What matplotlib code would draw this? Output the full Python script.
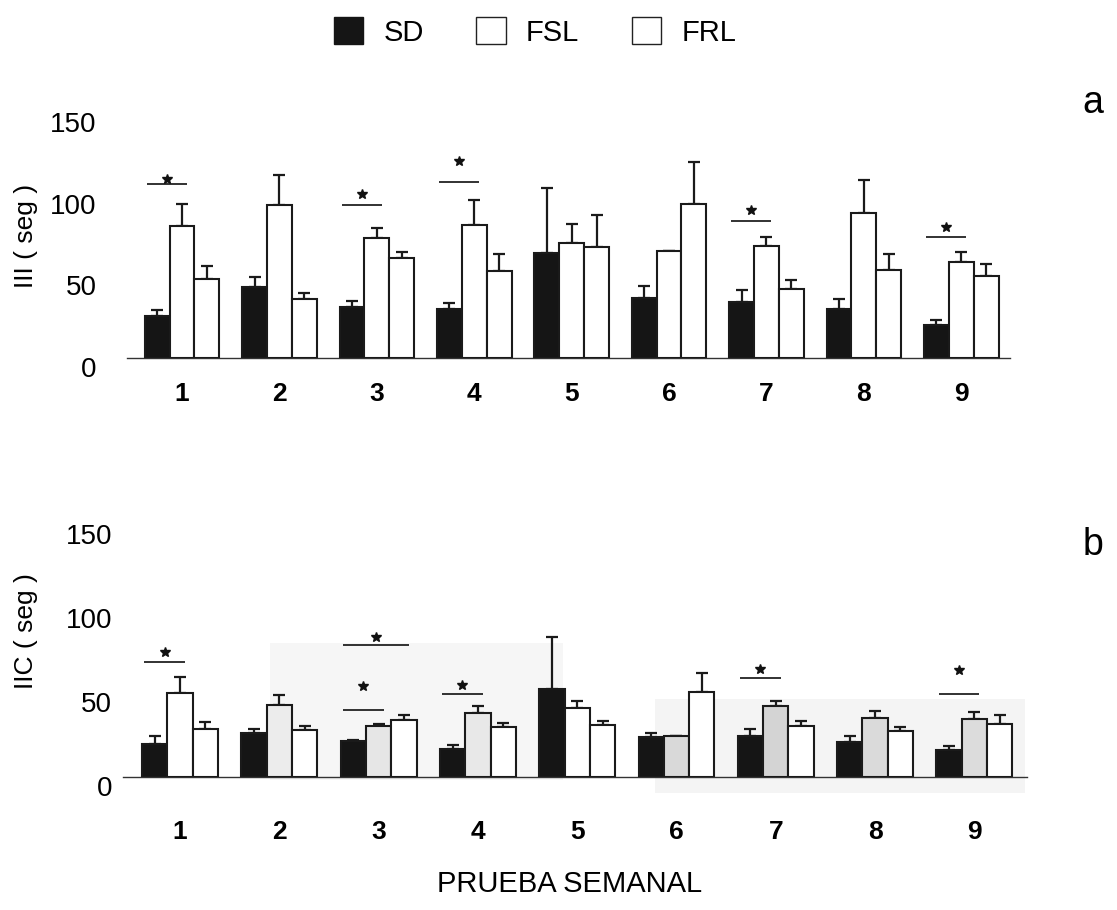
import matplotlib
matplotlib.use("Agg")
import matplotlib.pyplot as plt
import matplotlib.transforms as mtransforms
from matplotlib.patches import Patch, Rectangle
import numpy as np

plt.rcParams['font.family'] = ['Liberation Sans', 'DejaVu Sans']

# ---------------- data ----------------
weeks = ['1', '2', '3', '4', '5', '6', '7', '8', '9']
series = ['SD', 'FSL', 'FRL']
yticks = [0, 50, 100, 150]

# panel a : III (seg)
a_sd = [25.7, 43.4, 31.4, 30.2, 64.2, 36.5, 34.1, 30.2, 20.2]
a_sd_err = [3.5, 6.1, 3.5, 3.4, 39.6, 7.3, 7.3, 6.1, 3.2]
a_fsl = [80.7, 93.6, 73.6, 81.3, 70.5, 65.4, 68.7, 88.7, 58.5]
a_fsl_err = [13.3, 18.5, 5.9, 15.5, 11.3, 0.0, 5.1, 20.2, 6.1]
a_frl = [48.3, 35.9, 61.0, 53.4, 68.1, 94.0, 42.4, 53.6, 50.0]
a_frl_err = [8.2, 4.0, 4.0, 10.2, 19.5, 26.1, 5.1, 9.8, 7.3]
a_sig_week = [1, 3, 4, 7, 9]
a_sig_line = [106.8, 93.6, 107.8, 83.8, 74.2]
a_sig_star = [109.7, 100.3, 120.5, 90.9, 80.3]
a_sig_to = ['FSL', 'FSL', 'FSL', 'FSL', 'FSL']

# panel b : IIC (seg)
b_sd = [19.9, 26.0, 21.3, 16.9, 52.1, 23.7, 24.4, 20.7, 16.3]
b_sd_err = [4.5, 2.6, 0.7, 2.4, 31.2, 2.7, 4.0, 3.9, 2.4]
b_fsl = [50.0, 43.1, 30.6, 38.0, 41.0, 24.4, 42.1, 35.0, 34.6]
b_fsl_err = [9.6, 6.0, 1.0, 4.0, 4.1, 0.0, 3.4, 4.0, 4.1]
b_frl = [28.6, 28.0, 33.8, 29.6, 30.8, 50.7, 30.6, 27.6, 31.6]
b_frl_err = [4.4, 2.2, 3.0, 2.8, 2.8, 11.1, 3.0, 2.4, 5.2]
b_sig_week = [1, 3, 3, 4, 7, 9]
b_sig_line = [68.2, 78.5, 40.0, 49.7, 59.0, 49.3]
b_sig_star = [74.5, 83.4, 54.2, 54.6, 64.0, 63.6]
b_sig_to = ['FSL', 'FRL', 'FSL', 'FSL', 'FSL', 'FSL']

# scanned grey tint of the FSL bars in panel b
b_fsl_colors = ['white', '#ececec', '#e6e6e6', '#e8e8e8', 'white',
                '#d9d9d9', '#d4d4d4', '#dadada', '#dcdcdc']

# ---------------- figure ----------------
W, H = 1117, 910
fig = plt.figure(figsize=(W / 100, H / 100), dpi=100)

def px_axes(left, right, top, bottom):
    return fig.add_axes([left / W, 1 - bottom / H, (right - left) / W, (bottom - top) / H])

axA = px_axes(127, 1010, 113, 358)
axB = px_axes(123, 1027, 525, 777)

bw = 0.255
lw = 1.5
x = np.arange(1, len(weeks) + 1)
offs = {'SD': -bw, 'FSL': 0.0, 'FRL': bw}


def draw(ax, sd, sde, fsl, fsle, frl, frle, fsl_colors, xlim, tickpad, ylpad):
    vals = [(sd, sde, 'SD', ['#151515'] * len(x)),
            (fsl, fsle, 'FSL', fsl_colors),
            (frl, frle, 'FRL', ['white'] * len(x))]
    for v, e, name, cols in vals:
        xx = x + offs[name]
        ax.bar(xx, v, width=bw, color=cols, edgecolor='#1a1a1a', linewidth=lw, zorder=3)
        ax.errorbar(xx, v, yerr=[np.zeros(len(v)), e], fmt='none', ecolor='#1a1a1a',
                    elinewidth=1.6, capsize=4.5, capthick=1.6, zorder=2)
    ax.set_xlim(*xlim)
    ax.set_ylim(0, 150)
    ax.set_yticks(yticks)
    ax.set_yticklabels([str(t) for t in yticks], fontsize=20)
    ax.set_xticks(x)
    ax.set_xticklabels(weeks, fontsize=19, fontweight='bold')
    ax.tick_params(axis='both', length=0)
    ax.tick_params(axis='x', pad=tickpad)
    ax.tick_params(axis='y', pad=ylpad)
    for s in ['top', 'right', 'left']:
        ax.spines[s].set_visible(False)
    ax.spines['bottom'].set_linewidth(1.0)
    ax.spines['bottom'].set_color('#333333')
    ax.patch.set_alpha(0)
    # y tick labels sit a little lower than the baseline in the scan
    off = mtransforms.ScaledTranslation(0, -9 / 100, fig.dpi_scale_trans)
    for lab in ax.get_yticklabels():
        lab.set_transform(lab.get_transform() + off)


def sig(ax, weeks_i, lines, stars, tos):
    for w, ly, sy, to in zip(weeks_i, lines, stars, tos):
        x0 = w - 0.36
        x1 = w + (0.05 if to == 'FSL' else 0.31)
        ax.plot([x0, x1], [ly, ly], color='#222222', lw=1.3, zorder=4, solid_capstyle='butt')
        ax.plot([(x0 + x1) / 2], [sy], marker='*', ms=7, color='#111111', zorder=4)


draw(axA, a_sd, a_sd_err, a_fsl, a_fsl_err, a_frl, a_frl_err,
     ['white'] * len(x), (0.435, 9.5), 17, 22)
sig(axA, a_sig_week, a_sig_line, a_sig_star, a_sig_to)

draw(axB, b_sd, b_sd_err, b_fsl, b_fsl_err, b_frl, b_frl_err,
     b_fsl_colors, (0.426, 9.53), 31, 8)
sig(axB, b_sig_week, b_sig_line, b_sig_star, b_sig_to)

# faint grey scan tint behind panel b
axB.add_patch(Rectangle((1.906, -2), 2.95, 82, facecolor='#f6f6f6', edgecolor='none',
                        zorder=0, clip_on=False))
axB.add_patch(Rectangle((5.78, -9.5), 3.73, 55.8, facecolor='#f4f4f4', edgecolor='none',
                        zorder=0, clip_on=False))

axA.set_ylabel('III ( seg )', fontsize=19)
axB.set_ylabel('IIC ( seg )', fontsize=19)
axA.yaxis.set_label_coords(-89 / 883, 0.50)
axB.yaxis.set_label_coords(-85 / 904, 0.58)

fig.text(570 / W, 1 - 884 / H, 'PRUEBA SEMANAL', fontsize=21, ha='center', va='center')
fig.text(1093 / W, 1 - 103 / H, 'a', fontsize=27, ha='center', va='center')
fig.text(1093 / W, 1 - 545 / H, 'b', fontsize=27, ha='center', va='center')

handles = [Patch(facecolor='#151515', edgecolor='#151515', label='SD'),
           Patch(facecolor='white', edgecolor='#222222', label='FSL'),
           Patch(facecolor='white', edgecolor='#222222', label='FRL')]
fig.legend(handles=handles, loc='center', bbox_to_anchor=(535 / W, 1 - 32 / H), ncol=3,
           frameon=False, fontsize=21, handlelength=1.0, handleheight=1.0,
           handletextpad=0.7, columnspacing=1.8)

fig.savefig('out.png', dpi=100)
